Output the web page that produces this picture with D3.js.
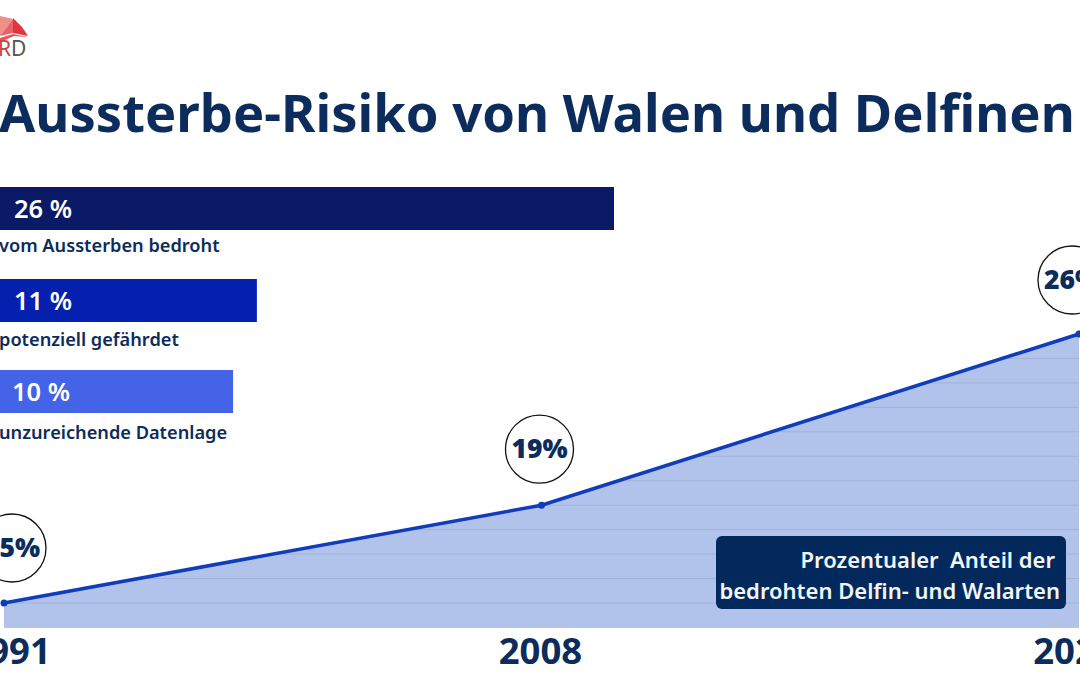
<!DOCTYPE html>
<html><head><meta charset="utf-8">
<script src="https://cdn.jsdelivr.net/npm/d3@7"></script>
<style>html,body{margin:0;padding:0;background:#fff;overflow:hidden}svg{display:block}</style>
</head><body><svg id="c" width="1080" height="675"></svg>
<script>
const titleText = "Aussterbe-Risiko von Walen und Delfinen";
const barLabels = ["vom Aussterben bedroht","potenziell gefährdet","unzureichende Datenlage"];
const barValues = [26,11,10];
const barColors = ["#0a1a66","#0420ae","#4463e6"];
const years = ["1991","2008","2021"];
const shares = [15,19,26];
const noteLines = ["Prozentualer  Anteil der","bedrohten Delfin- und Walarten"];
const gridValues = [15,16,17,18,19,20,21,22,23,24,25];

const navy="#0b2c5c", F="'Noto Sans',sans-serif";
const svg=d3.select("#c");

// logo
const logo=svg.append("g");
[["M0,16 L13,19 L0,36Z","#ee9085"],["M13,18 L22,27 L28,36 L13,33Z","#e2363f"],["M13,19 L13,33 L0,36Z","#e8626a"],
 ["M0,38 L13,34 L28,37 L14,36 L0,42Z","#e8505a"]].forEach(d=>logo.append("path").attr("d",d[0]).attr("fill",d[1]));
logo.append("text").attr("x",-2).attr("y",56).attr("font-family",F).attr("font-size",21).attr("fill","#555")
  .html('<tspan fill="#c8404a">R</tspan>D');

svg.append("text").attr("x",-1).attr("y",132).attr("font-family",F).attr("font-weight",700)
  .attr("font-size",52.5).attr("fill",navy).text(titleText);

// bars
const xBar=d3.scaleLinear().domain([0,26]).range([-5,614]);
const barTops=d3.scalePoint().domain(barLabels).range([187,370]);
const labelY=[246,340,433];
const g=svg.append("g");
barLabels.forEach((l,i)=>{
  const y=barTops(l);
  g.append("rect").attr("x",xBar(0)).attr("y",y+(i==1?0.5:0)).attr("width",xBar(barValues[i])-xBar(0)).attr("height",43).attr("fill",barColors[i]);
  g.append("text").attr("x",i==2?12:14).attr("y",y+31).attr("font-family",F).attr("font-weight",600).attr("font-size",25.5).attr("fill","#fff").text(barValues[i]+" %");
  g.append("text").attr("x",-1).attr("y",labelY[i]+6).attr("font-family",F).attr("font-weight",600).attr("font-size",18.2).attr("fill",navy).text(l);
});

// area chart
const x=d3.scalePoint().domain(years).range([4,1079]);
const y=d3.scaleLinear().domain([15,26]).range([603,334]);
const base=628;
const pts=years.map((yr,i)=>({yr,v:shares[i]}));
const area=d3.area().x(d=>x(d.yr)).y0(base).y1(d=>y(d.v));
const line=d3.line().x(d=>x(d.yr)).y(d=>y(d.v));
svg.append("clipPath").attr("id","ac").append("path").attr("d",area(pts));
svg.append("path").attr("d",area(pts)).attr("fill","#b1c3ea");
svg.append("g").attr("clip-path","url(#ac)").selectAll("line").data(gridValues).join("line")
  .attr("x1",0).attr("x2",1080).attr("y1",d=>y(d)).attr("y2",d=>y(d)).attr("stroke","#a2b1d8").attr("stroke-width",1);
svg.append("path").attr("d",line(pts)).attr("fill","none").attr("stroke","#0f3dbb").attr("stroke-width",3.5);
svg.selectAll(".pt").data(pts).join("circle").attr("class","pt").attr("cx",d=>x(d.yr)).attr("cy",d=>y(d.v)).attr("r",3.5).attr("fill","#0f3dbb");

// bubbles
const bdx=[8,-2,-7], bdy=[55,56,54];
svg.selectAll(".b").data(pts).join("circle").attr("class","b").attr("cx",(d,i)=>x(d.yr)+bdx[i]).attr("cy",(d,i)=>y(d.v)-bdy[i])
  .attr("r",34).attr("fill","#fff").attr("stroke","#111").attr("stroke-width",1.3);
svg.selectAll(".bt").data(pts).join("text").attr("class","bt").attr("text-anchor","middle")
  .attr("x",(d,i)=>x(d.yr)+bdx[i]).attr("y",(d,i)=>y(d.v)-bdy[i]+8.5)
  .attr("font-family",F).attr("font-weight",900).attr("font-size",26.5).attr("fill",navy).text(d=>d.v+"%");

// year labels
svg.selectAll(".yr").data(pts).join("text").attr("class","yr").attr("text-anchor","middle")
  .attr("x",(d,i)=>x(d.yr)+[5,-1,-4][i]).attr("y",664).attr("font-family",F).attr("font-weight",700).attr("font-size",36.5).attr("fill",navy).text(d=>d.yr);

// note
svg.append("rect").attr("x",716).attr("y",536).attr("width",350).attr("height",73).attr("rx",6).attr("fill","#03295c");
noteLines.forEach((t,i)=>svg.append("text").attr("x",[1055,1060][i]).attr("y",[568,599][i]).attr("text-anchor","end")
  .attr("xml:space","preserve").style("white-space","pre").attr("font-family",F).attr("font-weight",600).attr("font-size",22).attr("fill","#f2f5fa").text(t));
</script></body></html>
